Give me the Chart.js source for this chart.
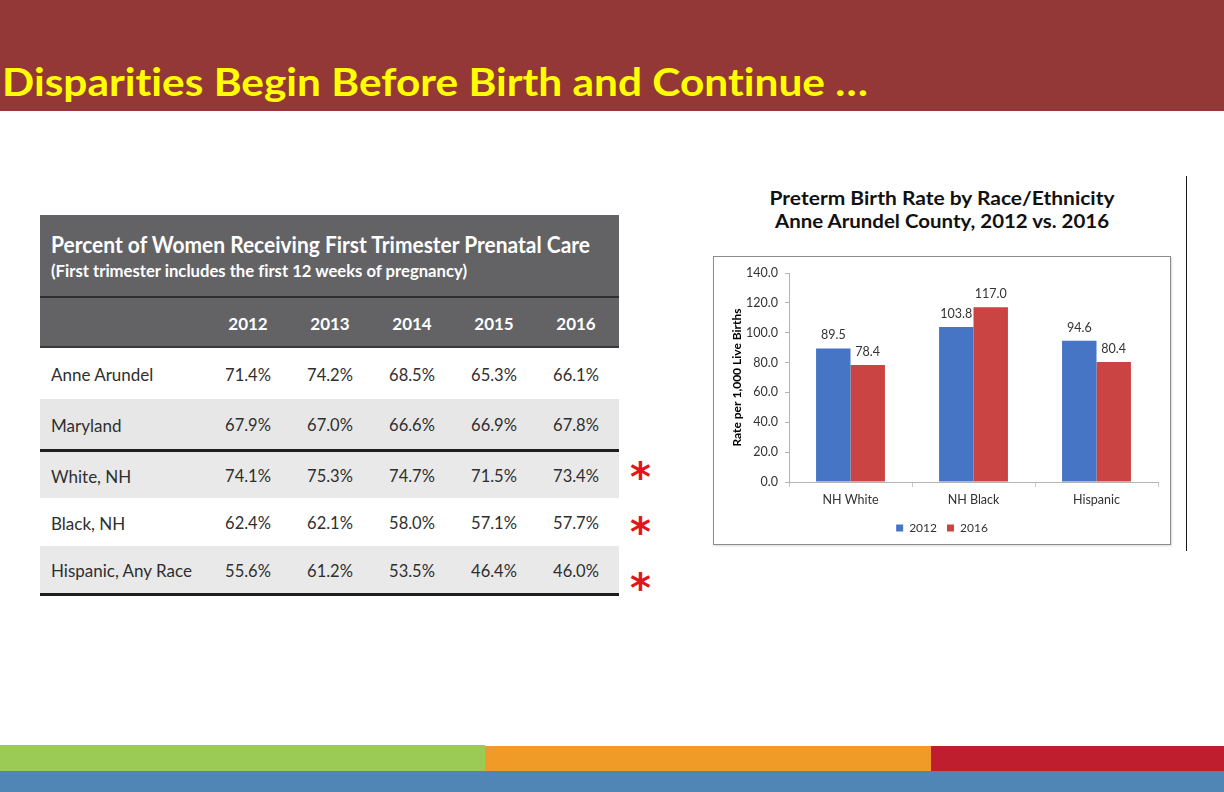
<!DOCTYPE html>
<html>
<head>
<meta charset="utf-8">
<script src="https://cdn.jsdelivr.net/npm/chart.js@4.4.0/dist/chart.umd.min.js"></script>
<style>
  html, body { margin: 0; padding: 0; background: #fff; }
  #slide { position: relative; width: 1224px; height: 792px; overflow: hidden; font-family: Lato, 'Open Sans', sans-serif; font-variant-ligatures: none; }
  #topbar { position: absolute; left: 0; top: 0; width: 1224px; height: 111px; background: #943737; }
  #slideTitle { position: absolute; left: 2px; top: 62px; color: #ffff00; font-weight: 700; font-size: 39px; line-height: 39px; white-space: nowrap; transform-origin: left center; }

  #tbl { position: absolute; left: 40px; top: 215px; width: 579px; }
  .band { position: absolute; left: 0; width: 579px; }
  .cell { position: absolute; top: 1px; height: 100%; display: flex; align-items: center; white-space: nowrap; }
  .num { justify-content: center; width: 82px; }
  #tblTitle { position: absolute; left: 11px; top: 16px; color: #fff; font-size: 23px; font-weight: 700; line-height: 26px; white-space: nowrap; transform-origin: left center; }
  #tblSub { position: absolute; left: 11px; top: 46px; color: #fff; font-size: 17px; font-weight: 700; line-height: 20px; white-space: nowrap; transform-origin: left center; }
  .star { position: absolute; left: 630px; color: #e3141c; font-family: 'DejaVu Sans', sans-serif; font-weight: 700; font-size: 40px; line-height: 40px; }

  #chartTitle { position: absolute; left: 713px; top: 187px; width: 458px; text-align: center; color: #111; font-weight: 700; font-size: 18px; line-height: 23px; }
  #chartTitle div { display: inline-block; white-space: nowrap; transform-origin: center center; }
  #chartBox { position: absolute; left: 713px; top: 256px; width: 456px; height: 287px; border: 1px solid #8c8c8c; box-shadow: 1px 1px 2px rgba(0,0,0,0.15); }
  #rule { position: absolute; left: 1186px; top: 176px; width: 1px; height: 375px; background: #1a1a1a; }

  .strip { position: absolute; }
</style>
</head>
<body>
<div id="slide">
  <div id="topbar"></div>
  <div id="slideTitle">Disparities Begin Before Birth and Continue …</div>

  <div id="tbl"></div>
  <div class="star" style="top:457px">*</div>
  <div class="star" style="top:512px">*</div>
  <div class="star" style="top:568px">*</div>

  <div id="chartTitle">
    <div id="ctLine1">Preterm Birth Rate by Race/Ethnicity</div><br>
    <div id="ctLine2">Anne Arundel County, 2012 vs. 2016</div>
  </div>
  <div id="chartBox"><canvas id="pretermChart" width="456" height="287"></canvas></div>
  <div id="rule"></div>

  <div class="strip" style="left:0;top:745px;width:485px;height:26px;background:#9ccb55"></div>
  <div class="strip" style="left:485px;top:746px;width:446px;height:25px;background:#f09b27"></div>
  <div class="strip" style="left:931px;top:746px;width:293px;height:25px;background:#be1e2e"></div>
  <div class="strip" style="left:0;top:771px;width:1224px;height:21px;background:#4f86b6"></div>
</div>

<script>
// --- table data ---
const tableTitle = 'Percent of Women Receiving First Trimester Prenatal Care';
const tableSubtitle = '(First trimester includes the first 12 weeks of pregnancy)';
const tableYears = ['2012', '2013', '2014', '2015', '2016'];
const tableRows = ['Anne Arundel', 'Maryland', 'White, NH', 'Black, NH', 'Hispanic, Any Race'];
const anneArundel = [71.4, 74.2, 68.5, 65.3, 66.1];
const maryland = [67.9, 67.0, 66.6, 66.9, 67.8];
const whiteNH = [74.1, 75.3, 74.7, 71.5, 73.4];
const blackNH = [62.4, 62.1, 58.0, 57.1, 57.7];
const hispanicAny = [55.6, 61.2, 53.5, 46.4, 46.0];
const tableValues = [anneArundel, maryland, whiteNH, blackNH, hispanicAny];

// --- chart data ---
const groups = ['NH White', 'NH Black', 'Hispanic'];
const rate2012 = [89.5, 103.8, 94.6];
const rate2016 = [78.4, 117.0, 80.4];
const seriesNames = ['2012', '2016'];
const yAxisTitle = 'Rate per 1,000 Live Births';

// row geometry (relative to table top), kept apart from the values
const rowBoxes = [
  { top: 133, h: 51, bg: '#ffffff' },
  { top: 184, h: 50, bg: '#e7e7e7' },
  { top: 237, h: 46, bg: '#e9e9e9' },
  { top: 283, h: 48, bg: '#ffffff' },
  { top: 331, h: 47, bg: '#e9e9e9' }
];
const firstColWidth = 167;

function band(top, h, bg) {
  const d = document.createElement('div');
  d.className = 'band';
  d.style.top = top + 'px';
  d.style.height = h + 'px';
  d.style.background = bg;
  return d;
}

function buildTable() {
  const tbl = document.getElementById('tbl');
  const head = band(0, 81, '#636366');
  head.innerHTML = '<div id="tblTitle">' + tableTitle + '</div><div id="tblSub">' + tableSubtitle + '</div>';
  tbl.appendChild(head);
  tbl.appendChild(band(81, 2, '#2e2e30'));

  const yearRow = band(83, 48, '#636366');
  tableYears.forEach((y, i) => {
    const c = document.createElement('div');
    c.className = 'cell num';
    c.style.left = (firstColWidth + i * 82) + 'px';
    c.style.color = '#fff';
    c.style.fontWeight = '700';
    c.style.fontSize = '17px';
    c.textContent = y;
    yearRow.appendChild(c);
  });
  tbl.appendChild(yearRow);
  tbl.appendChild(band(131, 2, '#3a3a3c'));

  tableRows.forEach((name, r) => {
    const box = rowBoxes[r];
    const row = band(box.top, box.h, box.bg);
    const lab = document.createElement('div');
    lab.className = 'cell';
    lab.style.left = '11px';
    lab.style.color = '#2f2f2f';
    lab.style.fontSize = '17px';
    lab.textContent = name;
    row.appendChild(lab);
    tableValues[r].forEach((v, i) => {
      const c = document.createElement('div');
      c.className = 'cell num';
      c.style.left = (firstColWidth + i * 82) + 'px';
      c.style.color = '#2f2f2f';
      c.style.fontSize = '16.5px';
      c.textContent = v.toFixed(1) + '%';
      row.appendChild(c);
    });
    tbl.appendChild(row);
  });
  tbl.appendChild(band(234, 3, '#1e1e1e'));
  tbl.appendChild(band(378, 3, '#1e1e1e'));
}

function fitWidth(id, target) {
  const el = document.getElementById(id);
  const w = el.getBoundingClientRect().width;
  if (w > 0) el.style.transform = 'scaleX(' + (target / w) + ')';
}

// value labels above each bar
const barValueLabels = {
  id: 'barValueLabels',
  afterDatasetsDraw(chart) {
    const ctx = chart.ctx;
    ctx.save();
    ctx.font = '12.5px Lato';
    ctx.fillStyle = '#333';
    ctx.textAlign = 'center';
    ctx.textBaseline = 'middle';
    chart.data.datasets.forEach((ds, i) => {
      chart.getDatasetMeta(i).data.forEach((bar, j) => {
        ctx.fillText(ds.data[j].toFixed(1), bar.x, bar.y - 13);
      });
    });
    ctx.restore();
  }
};

function buildChart() {
  new Chart(document.getElementById('pretermChart'), {
    type: 'bar',
    data: {
      labels: groups,
      datasets: [
        { label: seriesNames[0], data: rate2012, backgroundColor: '#4575c4' },
        { label: seriesNames[1], data: rate2016, backgroundColor: '#c94443' }
      ]
    },
    options: {
      responsive: false,
      animation: false,
      layout: { padding: { left: 12, right: 12, top: 16, bottom: 0 } },
      datasets: { bar: { categoryPercentage: 0.56, barPercentage: 1 } },
      scales: {
        x: {
          grid: { drawOnChartArea: false, drawTicks: true, tickLength: 5, color: '#c8c8c8', offset: true },
          border: { color: '#b4b4b4' },
          ticks: { padding: 5, color: '#333', font: { family: 'Lato', size: 12.5 } },
          afterFit(scale) { scale.height = 30; }
        },
        y: {
          min: 0,
          max: 140,
          ticks: {
            stepSize: 20,
            padding: 7,
            color: '#333',
            font: { family: 'Lato', size: 12.5 },
            callback: v => v.toFixed(1)
          },
          grid: { drawOnChartArea: false, tickLength: 4, color: '#b4b4b4' },
          border: { color: '#b4b4b4' },
          title: {
            display: true,
            text: yAxisTitle,
            color: '#000',
            font: { family: 'Lato', size: 12, weight: 'bold' },
            padding: { top: 4, bottom: 0 }
          },
          afterFit(scale) { scale.width = 63; }
        }
      },
      plugins: {
        legend: {
          position: 'bottom',
          labels: { boxWidth: 7, boxHeight: 7, padding: 10, color: '#333', font: { family: 'Lato', size: 12 } }
        },
        tooltip: { enabled: false }
      }
    },
    plugins: [barValueLabels]
  });
}

buildTable();
fitWidth('slideTitle', 866);
fitWidth('tblTitle', 539);
fitWidth('tblSub', 416);
fitWidth('ctLine1', 345);
fitWidth('ctLine2', 334);
buildChart();
</script>
</body>
</html>
